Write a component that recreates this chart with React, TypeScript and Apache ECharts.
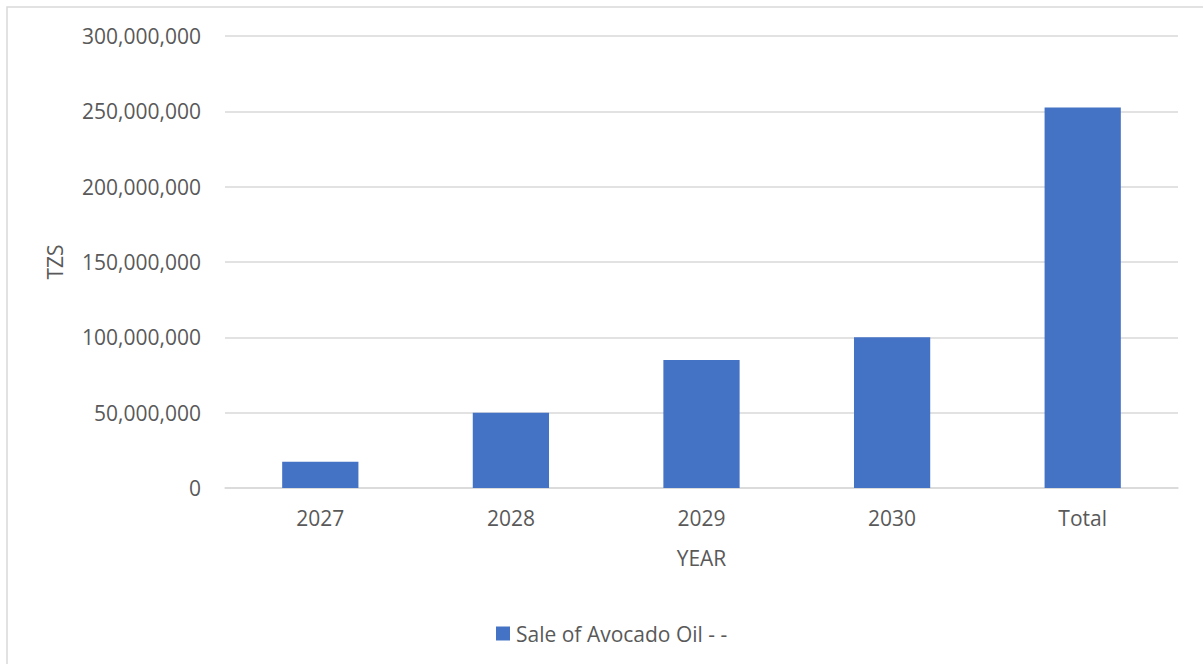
import React, { useEffect, useRef } from "react";
import * as echarts from "echarts";

const categories = ["2027", "2028", "2029", "2030", "Total"];
const saleValues = [17500000, 50000000, 85000000, 100000000, 252500000];
const seriesName = "Sale of Avocado Oil - -";
const yTickMax = 300000000;
const yTickInterval = 50000000;

const FONT = "'Open Sans', 'Noto Sans', sans-serif";
const FS = 21;
const TEXT_COLOR = "#595959";
const GRID_COLOR = "#d9d9d9";

export default function App() {
  const ref = useRef<HTMLDivElement>(null);
  useEffect(() => {
    if (!ref.current) return;
    const chart = echarts.init(ref.current, undefined, { renderer: "svg" });
    chart.setOption({
      animation: false,
      backgroundColor: "#ffffff",
      textStyle: { fontFamily: FONT },
      graphic: [
        {
          type: "rect",
          shape: { x: 7, y: 7, width: 1210, height: 670 },
          style: { fill: "none", stroke: GRID_COLOR, lineWidth: 1.5 },
          silent: true,
        },
      ],
      grid: { left: 225, right: 25, top: 36, bottom: 176, containLabel: false },
      legend: {
        left: 496,
        top: 623,
        padding: 0,
        itemWidth: 14,
        itemHeight: 14,
        icon: "rect",
        itemGap: 10,
        textStyle: { fontFamily: FONT, fontSize: FS, color: TEXT_COLOR, padding: [0, 0, 0, 1] },
        data: [seriesName],
      },
      xAxis: {
        type: "category",
        data: categories,
        name: "YEAR",
        nameLocation: "middle",
        nameGap: 59,
        nameTextStyle: { fontFamily: FONT, fontSize: FS, color: TEXT_COLOR, verticalAlign: "top" },
        axisLine: { show: true, lineStyle: { color: GRID_COLOR, width: 1.5 } },
        axisTick: { show: false },
        axisLabel: { fontFamily: FONT, fontSize: FS, color: TEXT_COLOR, margin: 19 },
      },
      yAxis: {
        type: "value",
        min: 0,
        max: yTickMax,
        interval: yTickInterval,
        name: "TZS",
        nameLocation: "middle",
        nameGap: 160,
        nameTextStyle: { fontFamily: FONT, fontSize: FS, color: TEXT_COLOR },
        axisLine: { show: false },
        axisTick: { show: false },
        splitLine: { lineStyle: { color: GRID_COLOR, width: 1.5 } },
        axisLabel: {
          fontFamily: FONT,
          fontSize: FS,
          color: TEXT_COLOR,
          margin: 24,
          formatter: (v: number) => v.toLocaleString("en-US"),
        },
      },
      series: [
        {
          name: seriesName,
          type: "bar",
          data: saleValues,
          barWidth: "40%",
          itemStyle: { color: "#4472C4" },
        },
      ],
    });
    return () => chart.dispose();
  }, []);
  return (
    <div
      ref={ref}
      style={{ position: "absolute", left: 0, top: 0, width: 1203, height: 664, overflow: "hidden" }}
    />
  );
}
